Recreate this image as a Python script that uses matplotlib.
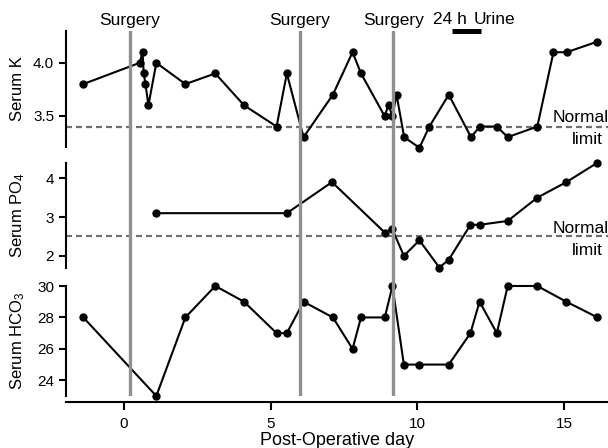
import matplotlib
matplotlib.use("Agg")
import matplotlib.pyplot as plt
from matplotlib.transforms import blended_transform_factory

plt.rcParams['font.family'] = ['Liberation Sans', 'DejaVu Sans']
plt.rcParams['mathtext.fontset'] = 'custom'
plt.rcParams['mathtext.rm'] = 'Liberation Sans'
plt.rcParams['mathtext.it'] = 'Liberation Sans'

# ---- data ----
k_days = [-1.39, 0.53, 0.63, 0.67, 0.73, 0.83, 1.10, 2.09, 3.11, 4.09, 5.20, 5.55,
          6.12, 7.12, 7.79, 8.08, 8.88, 9.02, 9.15, 9.29, 9.55, 10.07, 10.41, 11.07,
          11.83, 12.13, 12.71, 13.08, 14.09, 14.64, 15.09, 16.14]
k_vals = [3.8, 4.0, 4.1, 3.9, 3.8, 3.6, 4.0, 3.8, 3.9, 3.6, 3.4, 3.9,
          3.3, 3.7, 4.1, 3.9, 3.5, 3.6, 3.5, 3.7, 3.3, 3.2, 3.4, 3.7,
          3.3, 3.4, 3.4, 3.3, 3.4, 4.1, 4.1, 4.2]

po4_days = [1.10, 5.55, 7.09, 8.89, 9.14, 9.54, 10.07, 10.75, 11.07, 11.81, 12.12,
            13.08, 14.09, 15.08, 16.14]
po4_vals = [3.1, 3.1, 3.9, 2.6, 2.7, 2.0, 2.4, 1.7, 1.9, 2.8, 2.8, 2.9, 3.5, 3.9, 4.4]

hco3_days = [-1.39, 1.10, 2.09, 3.11, 4.09, 5.20, 5.55, 6.12, 7.12, 7.79, 8.08, 8.89,
             9.15, 9.54, 10.07, 11.07, 11.81, 12.12, 12.71, 13.08, 14.09, 15.08, 16.14]
hco3_vals = [28, 23, 28, 30, 29, 27, 27, 29, 28, 26, 28, 28,
             30, 25, 25, 25, 27, 29, 27, 30, 30, 29, 28]

surgery_days = [0.2, 6.0, 9.18]
surgery_label = "Surgery"
urine_start, urine_end = 11.18, 12.17
k_normal = 3.4
po4_normal = 2.5
x_ticks = [0, 5, 10, 15]
k_ticks = [3.5, 4.0]
po4_ticks = [2, 3, 4]
hco3_ticks = [24, 26, 28, 30]

# ---- layout ----
W, H = 608, 448
fig = plt.figure(figsize=(W / 100, H / 100), dpi=100)

def px_box(top, bottom, left=66, right=608):
    return [left / W, 1 - bottom / H, (right - left) / W, (bottom - top) / H]

xlim = (-1.98, 16.50)
ax_k = fig.add_axes(px_box(31, 146.7))
ax_p = fig.add_axes(px_box(162.7, 268.3))
ax_h = fig.add_axes(px_box(286, 396))
ax_o = fig.add_axes(px_box(31, 396))
ax_o.set_xlim(*xlim)
ax_o.set_ylim(0, 1)
ax_o.axis('off')
ax_o.patch.set_alpha(0)

for d in surgery_days:
    ax_o.axvline(d, color='#8f8f8f', lw=2.4, zorder=0)

line_kw = dict(color='black', lw=1.5, marker='o', ms=5, clip_on=False, zorder=3)
dash_kw = dict(color='#707070', lw=1.6, ls=(0, (2.7, 1.8)), zorder=2)

for ax, xs, ys, ylim, ticks in [
    (ax_k, k_days, k_vals, (3.21, 4.30), k_ticks),
    (ax_p, po4_days, po4_vals, (1.68, 4.40), po4_ticks),
    (ax_h, hco3_days, hco3_vals, (23.0, 30.0), hco3_ticks),
]:
    ax.patch.set_alpha(0)
    ax.plot(xs, ys, **line_kw)
    ax.set_xlim(*xlim)
    ax.set_ylim(*ylim)
    ax.set_yticks(ticks)
    for s in ['top', 'right']:
        ax.spines[s].set_visible(False)
    ax.spines['left'].set_linewidth(1.5)
    ax.tick_params(axis='y', length=5, width=1.5, labelsize=11, pad=3.5)

ax_k.yaxis.set_major_formatter(matplotlib.ticker.FormatStrFormatter('%.1f'))
ax_k.axhline(k_normal, **dash_kw)
ax_p.axhline(po4_normal, **dash_kw)

for ax in [ax_k, ax_p]:
    ax.spines['bottom'].set_visible(False)
    ax.set_xticks([])

ax_h.spines['bottom'].set_position(('outward', 4))
ax_h.spines['bottom'].set_linewidth(1.5)
ax_h.set_xticks(x_ticks)
ax_h.tick_params(axis='x', length=5.5, width=1.5, labelsize=11, pad=5.5)
ax_h.set_xlabel('Post-Operative day', fontsize=13, labelpad=1)

# y labels
for ax, lab, top, bottom in [(ax_k, 'Serum K', 31, 146.7),
                             (ax_p, 'Serum PO$_4$', 162.7, 268.3),
                             (ax_h, 'Serum HCO$_3$', 286, 396)]:
    fig.text(18 / W, 1 - (top + bottom) / 2 / H, lab, rotation=90,
             ha='center', va='center', fontsize=12)

# annotations on top
tr = blended_transform_factory(ax_o.transData, fig.transFigure)
for d in surgery_days:
    ax_o.text(d, 1 - 20 / H, surgery_label, transform=tr, ha='center',
              va='center', fontsize=12.5, clip_on=False)
ax_o.text(11.11, 1 - 20 / H, '24 h', transform=tr, ha='center', va='center',
          fontsize=12.5, clip_on=False)
ax_o.text(12.62, 1 - 20 / H, 'Urine', transform=tr, ha='center', va='center',
          fontsize=12.5, clip_on=False)
ax_o.plot([urine_start, urine_end], [1 - 30.7 / H] * 2, transform=tr,
          color='black', lw=3.6, solid_capstyle='butt', clip_on=False)

# Normal limit texts
for yn, yl in [(117, 140), (228, 250)]:
    fig.text(553 / W, 1 - yn / H, 'Normal', ha='left', va='center', fontsize=12.5)
    fig.text(603 / W, 1 - yl / H, 'limit', ha='right', va='center', fontsize=12.5)

fig.savefig('out.png', dpi=100)
